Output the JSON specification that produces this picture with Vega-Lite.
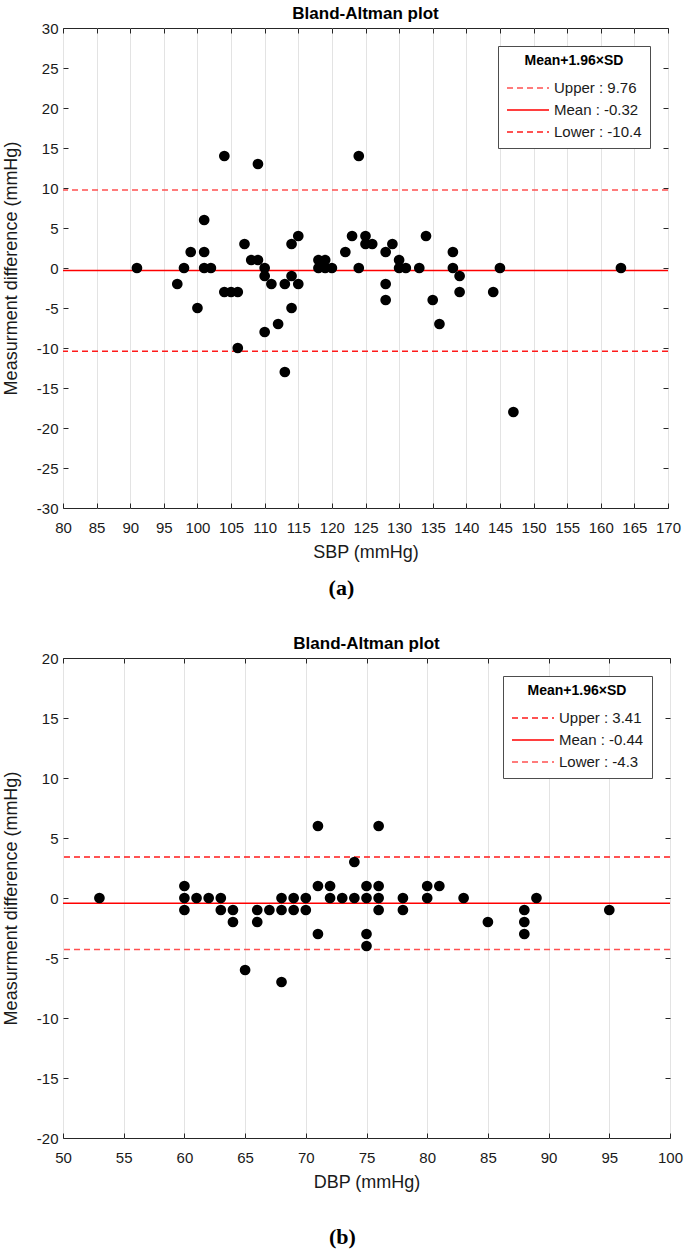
{
  "$schema": "https://vega.github.io/schema/vega-lite/v6.json",
  "background": "white",
  "padding": {"left": 1, "top": 4, "right": 8, "bottom": 4},
  "spacing": 35,
  "resolve": {"scale": {"color": "independent", "strokeDash": "independent"}, "legend": {"color": "independent", "strokeDash": "independent"}},
  "datasets": {
    "sbp": [
      {"sbp": 91, "diff": 0}, {"sbp": 97, "diff": -2}, {"sbp": 98, "diff": 0}, {"sbp": 99, "diff": 2},
      {"sbp": 100, "diff": -5}, {"sbp": 101, "diff": 6}, {"sbp": 101, "diff": 2}, {"sbp": 101, "diff": 0},
      {"sbp": 102, "diff": 0}, {"sbp": 104, "diff": 14}, {"sbp": 104, "diff": -3}, {"sbp": 105, "diff": -3},
      {"sbp": 106, "diff": -3}, {"sbp": 106, "diff": -10}, {"sbp": 107, "diff": 3}, {"sbp": 108, "diff": 1},
      {"sbp": 109, "diff": 13}, {"sbp": 109, "diff": 1}, {"sbp": 110, "diff": 0}, {"sbp": 110, "diff": -1},
      {"sbp": 110, "diff": -8}, {"sbp": 111, "diff": -2}, {"sbp": 112, "diff": -7}, {"sbp": 113, "diff": -2},
      {"sbp": 113, "diff": -13}, {"sbp": 114, "diff": 3}, {"sbp": 114, "diff": -1}, {"sbp": 114, "diff": -5},
      {"sbp": 115, "diff": 4}, {"sbp": 115, "diff": -2}, {"sbp": 118, "diff": 1}, {"sbp": 119, "diff": 1},
      {"sbp": 118, "diff": 0}, {"sbp": 119, "diff": 0}, {"sbp": 120, "diff": 0}, {"sbp": 122, "diff": 2},
      {"sbp": 123, "diff": 4}, {"sbp": 124, "diff": 14}, {"sbp": 124, "diff": 0}, {"sbp": 125, "diff": 4},
      {"sbp": 125, "diff": 3}, {"sbp": 126, "diff": 3}, {"sbp": 128, "diff": 2}, {"sbp": 129, "diff": 3},
      {"sbp": 128, "diff": -2}, {"sbp": 128, "diff": -4}, {"sbp": 130, "diff": 1}, {"sbp": 130, "diff": 0},
      {"sbp": 131, "diff": 0}, {"sbp": 133, "diff": 0}, {"sbp": 134, "diff": 4}, {"sbp": 135, "diff": -4},
      {"sbp": 136, "diff": -7}, {"sbp": 138, "diff": 2}, {"sbp": 138, "diff": 0}, {"sbp": 139, "diff": -1},
      {"sbp": 139, "diff": -3}, {"sbp": 144, "diff": -3}, {"sbp": 145, "diff": 0}, {"sbp": 147, "diff": -18},
      {"sbp": 163, "diff": 0}
    ],
    "sbpLines": [
      {"label": "Upper : 9.76", "value": 9.76},
      {"label": "Mean : -0.32", "value": -0.32},
      {"label": "Lower : -10.4", "value": -10.4}
    ],
    "dbp": [
      {"dbp": 53, "diff": 0}, {"dbp": 60, "diff": 1}, {"dbp": 60, "diff": 0}, {"dbp": 60, "diff": -1},
      {"dbp": 61, "diff": 0}, {"dbp": 62, "diff": 0}, {"dbp": 63, "diff": 0}, {"dbp": 63, "diff": -1},
      {"dbp": 64, "diff": -1}, {"dbp": 64, "diff": -2}, {"dbp": 65, "diff": -6}, {"dbp": 66, "diff": -1},
      {"dbp": 66, "diff": -2}, {"dbp": 67, "diff": -1}, {"dbp": 68, "diff": 0}, {"dbp": 68, "diff": -1},
      {"dbp": 68, "diff": -7}, {"dbp": 69, "diff": 0}, {"dbp": 69, "diff": -1}, {"dbp": 70, "diff": 0},
      {"dbp": 70, "diff": -1}, {"dbp": 71, "diff": 6}, {"dbp": 71, "diff": 1}, {"dbp": 71, "diff": -3},
      {"dbp": 72, "diff": 1}, {"dbp": 72, "diff": 0}, {"dbp": 73, "diff": 0}, {"dbp": 74, "diff": 3},
      {"dbp": 74, "diff": 0}, {"dbp": 75, "diff": 1}, {"dbp": 75, "diff": 0}, {"dbp": 75, "diff": -3},
      {"dbp": 75, "diff": -4}, {"dbp": 76, "diff": 6}, {"dbp": 76, "diff": 1}, {"dbp": 76, "diff": 0},
      {"dbp": 76, "diff": -1}, {"dbp": 78, "diff": 0}, {"dbp": 78, "diff": -1}, {"dbp": 80, "diff": 1},
      {"dbp": 80, "diff": 0}, {"dbp": 81, "diff": 1}, {"dbp": 83, "diff": 0}, {"dbp": 85, "diff": -2},
      {"dbp": 88, "diff": -1}, {"dbp": 88, "diff": -2}, {"dbp": 88, "diff": -3}, {"dbp": 89, "diff": 0},
      {"dbp": 95, "diff": -1}
    ],
    "dbpLines": [
      {"label": "Upper : 3.41", "value": 3.41},
      {"label": "Mean : -0.44", "value": -0.44},
      {"label": "Lower : -4.3", "value": -4.3}
    ]
  },
  "config": {
    "font": "Liberation Sans",
    "view": {"stroke": "#262626", "strokeWidth": 1},
    "axis": {
      "labelFont": "Liberation Sans",
      "labelFontSize": 15,
      "labelColor": "#1a1a1a",
      "labelOverlap": false,
      "labelFlush": false,
      "labelExpr": "'' + datum.value",
      "titleFont": "Liberation Sans",
      "titleFontSize": 18,
      "titleFontWeight": "normal",
      "titleColor": "#1a1a1a",
      "gridColor": "#e3e3e3",
      "gridWidth": 1,
      "domain": false,
      "tickColor": "#262626",
      "tickSize": -5
    },
    "axisX": {"labelPadding": 17},
    "axisY": {"labelPadding": 10},
    "title": {
      "font": "Liberation Sans",
      "fontSize": 17,
      "fontWeight": "bold",
      "color": "#000000",
      "offset": -2,
      "frame": "group"
    },
    "legend": {
      "orient": "top-right",
      "offset": 18,
      "strokeColor": "#4d4d4d",
      "fillColor": "white",
      "padding": 8,
      "titleFont": "Liberation Sans",
      "titleFontSize": 14,
      "titleFontWeight": "bold",
      "titleColor": "#000000",
      "titleAnchor": "middle",
      "titlePadding": 12,
      "labelFont": "Liberation Sans",
      "labelFontSize": 15,
      "labelColor": "#1a1a1a",
      "symbolType": "M-1,0H5",
      "symbolSize": 196,
      "symbolStrokeWidth": 1.5,
      "rowPadding": 6,
      "labelOffset": 32
    }
  },
  "vconcat": [
    {
      "title": {"text": "(a)", "orient": "bottom", "anchor": "middle", "frame": "bounds", "font": "Liberation Serif", "fontSize": 22, "fontWeight": "bold", "offset": 16},
      "resolve": {"scale": {"color": "independent", "strokeDash": "independent"}, "legend": {"color": "independent", "strokeDash": "independent"}},
      "vconcat": [
        {
          "title": {"text": "Bland-Altman plot"},
          "width": 605,
          "height": 480,
          "resolve": {"axis": {"x": "independent", "y": "independent"}},
          "layer": [
            {
              "data": {"name": "sbpLines"},
              "mark": {"type": "rule", "strokeWidth": 1.5},
              "encoding": {
                "y": {"field": "value", "type": "quantitative", "axis": null,
                  "scale": {"domain": [-30, 30], "nice": false, "zero": false}},
                "color": {"field": "label", "type": "nominal", "title": "Mean+1.96×SD",
                  "scale": {"domain": ["Upper : 9.76", "Mean : -0.32", "Lower : -10.4"], "range": ["#ff5050", "#ff0000", "#ff1a1a"]}},
                "strokeDash": {"field": "label", "type": "nominal", "title": "Mean+1.96×SD",
                  "scale": {"domain": ["Upper : 9.76", "Mean : -0.32", "Lower : -10.4"], "range": [[6, 4], [1, 0], [6, 4]]}}
              }
            },
            {
              "data": {"name": "sbp"},
              "mark": {"type": "circle", "size": 115, "color": "#000000", "opacity": 1},
              "encoding": {
                "x": {"field": "sbp", "type": "quantitative", "title": "SBP (mmHg)",
                  "scale": {"domain": [80, 170], "nice": false, "zero": false},
                  "axis": {"values": [80, 85, 90, 95, 100, 105, 110, 115, 120, 125, 130, 135, 140, 145, 150, 155, 160, 165, 170], "titlePadding": 8}},
                "y": {"field": "diff", "type": "quantitative", "title": "Measurment difference (mmHg)",
                  "scale": {"domain": [-30, 30], "nice": false, "zero": false},
                  "axis": {"values": [-30, -25, -20, -15, -10, -5, 0, 5, 10, 15, 20, 25, 30], "titlePadding": 16}}
              }
            },
            {
              "data": {"name": "sbp"},
              "mark": {"type": "point", "opacity": 0},
              "encoding": {
                "x": {"field": "sbp", "type": "quantitative",
                  "scale": {"domain": [80, 170], "nice": false, "zero": false},
                  "axis": {"orient": "top", "labels": false, "title": null, "grid": false,
                    "values": [80, 85, 90, 95, 100, 105, 110, 115, 120, 125, 130, 135, 140, 145, 150, 155, 160, 165, 170]}},
                "y": {"field": "diff", "type": "quantitative",
                  "scale": {"domain": [-30, 30], "nice": false, "zero": false},
                  "axis": {"orient": "right", "labels": false, "title": null, "grid": false,
                    "values": [-30, -25, -20, -15, -10, -5, 0, 5, 10, 15, 20, 25, 30]}}
              }
            }
          ]
        }
      ]
    },
    {
      "title": {"text": "(b)", "orient": "bottom", "anchor": "middle", "frame": "bounds", "font": "Liberation Serif", "fontSize": 22, "fontWeight": "bold", "offset": 35},
      "resolve": {"scale": {"color": "independent", "strokeDash": "independent"}, "legend": {"color": "independent", "strokeDash": "independent"}},
      "vconcat": [
        {
          "title": {"text": "Bland-Altman plot"},
          "width": 607,
          "height": 480,
          "resolve": {"axis": {"x": "independent", "y": "independent"}},
          "layer": [
            {
              "data": {"name": "dbpLines"},
              "mark": {"type": "rule", "strokeWidth": 1.5},
              "encoding": {
                "y": {"field": "value", "type": "quantitative", "axis": null,
                  "scale": {"domain": [-20, 20], "nice": false, "zero": false}},
                "color": {"field": "label", "type": "nominal", "title": "Mean+1.96×SD",
                  "scale": {"domain": ["Upper : 3.41", "Mean : -0.44", "Lower : -4.3"], "range": ["#ff1a1a", "#ff0000", "#ff5050"]}},
                "strokeDash": {"field": "label", "type": "nominal", "title": "Mean+1.96×SD",
                  "scale": {"domain": ["Upper : 3.41", "Mean : -0.44", "Lower : -4.3"], "range": [[6, 4], [1, 0], [6, 4]]}}
              }
            },
            {
              "data": {"name": "dbp"},
              "mark": {"type": "circle", "size": 115, "color": "#000000", "opacity": 1},
              "encoding": {
                "x": {"field": "dbp", "type": "quantitative", "title": "DBP (mmHg)",
                  "scale": {"domain": [50, 100], "nice": false, "zero": false},
                  "axis": {"values": [50, 55, 60, 65, 70, 75, 80, 85, 90, 95, 100], "titlePadding": 8}},
                "y": {"field": "diff", "type": "quantitative", "title": "Measurment difference (mmHg)",
                  "scale": {"domain": [-20, 20], "nice": false, "zero": false},
                  "axis": {"values": [-20, -15, -10, -5, 0, 5, 10, 15, 20], "titlePadding": 16}}
              }
            },
            {
              "data": {"name": "dbp"},
              "mark": {"type": "point", "opacity": 0},
              "encoding": {
                "x": {"field": "dbp", "type": "quantitative",
                  "scale": {"domain": [50, 100], "nice": false, "zero": false},
                  "axis": {"orient": "top", "labels": false, "title": null, "grid": false,
                    "values": [50, 55, 60, 65, 70, 75, 80, 85, 90, 95, 100]}},
                "y": {"field": "diff", "type": "quantitative",
                  "scale": {"domain": [-20, 20], "nice": false, "zero": false},
                  "axis": {"orient": "right", "labels": false, "title": null, "grid": false,
                    "values": [-20, -15, -10, -5, 0, 5, 10, 15, 20]}}
              }
            }
          ]
        }
      ]
    }
  ]
}
